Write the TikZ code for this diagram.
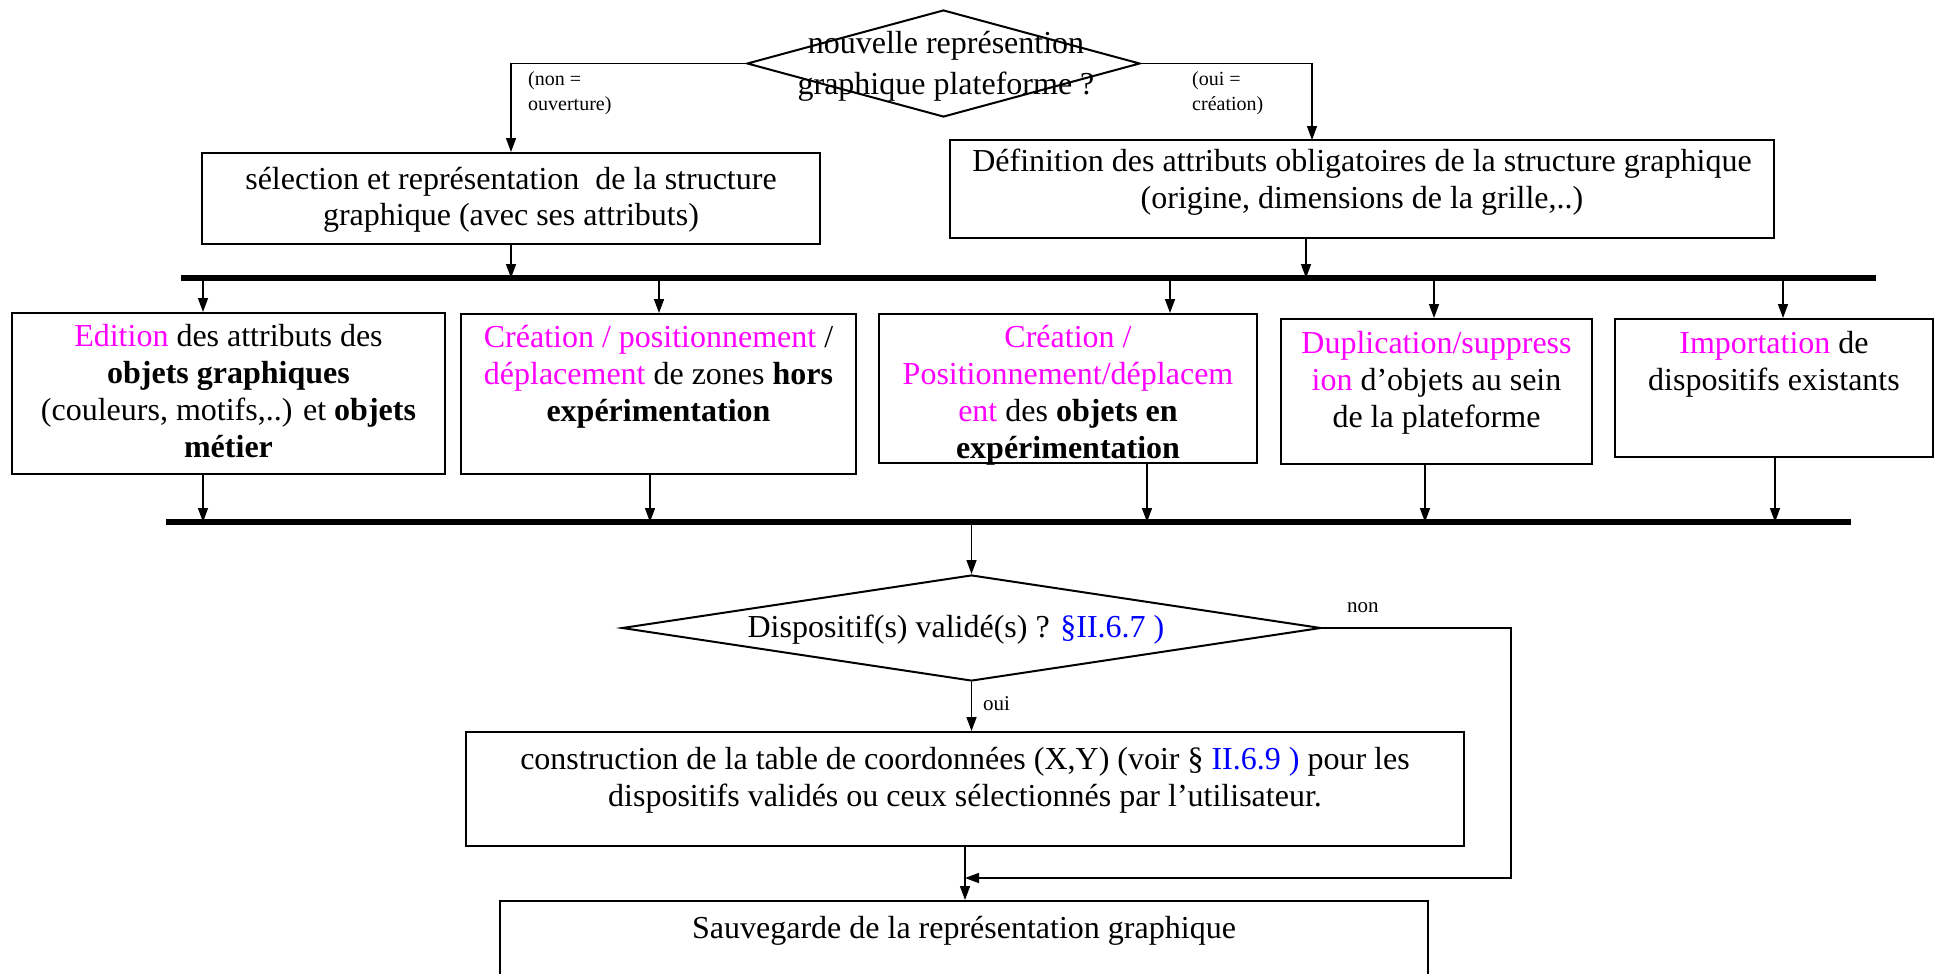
\documentclass[tikz,border=0pt]{standalone}
\usepackage{fontspec}
\setmainfont{Liberation Serif}
\usetikzlibrary{arrows.meta,shapes.geometric}
\definecolor{rose}{RGB}{255,0,255}
\definecolor{lien}{RGB}{0,0,255}
\newcommand\enrose[1]{\textcolor{rose}{#1}}
\newcommand\renvoi[1]{\textcolor{lien}{#1}}

\begin{document}
\begin{tikzpicture}[x=1pt, y=-1pt,
  box/.style={draw, line width=2pt, inner sep=0pt},
  decision/.style={draw, diamond, line width=2pt, inner sep=0pt},
  txt/.style={align=flush center, inner sep=0pt, font={\fontsize{32}{37}\selectfont}},
  note/.style={align=flush left, inner sep=0pt, text width=120pt, font={\fontsize{20}{25}\selectfont}},
  arr/.style={line width=1.5pt, -{Triangle[length=14pt,width=10pt]}},
  bus/.style={line width=6pt}
]
\useasboundingbox (0,0) rectangle (1935,974);
\clip (0,0) rectangle (1935,974);

% top question
\node[decision, minimum width=393, minimum height=107] (d1) at (943.5,63.5) {};
\node[txt, text width=400pt, font={\fontsize{32}{41}\selectfont}, anchor=base] (d1t) at (946,54) {nouvelle représention\\graphique plateforme ?};
\node[note, anchor=base west] (non1) at (528,85) {(non =\\ouverture)};
\node[note, anchor=base west] (oui1) at (1192,85) {(oui =\\création)};

\node[box, minimum width=618, minimum height=91] (sel) at (511,198.5) {};
\node[txt, text width=600pt, font={\fontsize{32}{36}\selectfont}, anchor=base] (selt) at (511,189) {sélection et représentation\ \ de la structure\\graphique (avec ses attributs)};
\node[box, minimum width=824.5, minimum height=98] (def) at (1361.75,189) {};
\node[txt, text width=820pt, font={\fontsize{32}{37}\selectfont}, anchor=base] (deft) at (1362,171) {Définition des attributs obligatoires de la structure graphique\\(origine, dimensions de la grille,..)};

% row of actions
\node[box, minimum width=433, minimum height=161] (b1) at (228.5,393.5) {};
\node[txt, text width=430pt, anchor=base] (b1t) at (228.5,346) {\enrose{Edition} des attributs des\\\textbf{objets graphiques}\\(couleurs, motifs,..) et \textbf{objets}\\\textbf{métier}};
\node[box, minimum width=395, minimum height=160] (b2) at (658.5,394) {};
\node[txt, text width=390pt, anchor=base] (b2t) at (658.5,347) {\enrose{Création / positionnement} /\\\enrose{déplacement} de zones \textbf{hors}\\\textbf{expérimentation}};
\node[box, minimum width=378, minimum height=149] (b3) at (1068,388.5) {};
\node[txt, text width=375pt, anchor=base] (b3t) at (1068,347) {\enrose{Création /}\\\enrose{Positionnement/déplacem}\\\enrose{ent} des \textbf{objets en}\\\textbf{expérimentation}};
\node[box, minimum width=311, minimum height=145] (b4) at (1436.5,391.5) {};
\node[txt, text width=308pt, anchor=base] (b4t) at (1436.5,353) {\enrose{Duplication/suppress}\\\enrose{ion} d’objets au sein\\de la plateforme};
\node[box, minimum width=318, minimum height=138] (b5) at (1774,388) {};
\node[txt, text width=315pt, anchor=base] (b5t) at (1774,353) {\enrose{Importation} de\\dispositifs existants};

% validation
\node[decision, minimum width=699, minimum height=106] (d2) at (971.5,628) {};
\node[txt, text width=650pt, anchor=base] (d2t) at (956,637) {Dispositif(s) validé(s) ? \renvoi{§II.6.7 )}};
\node[note, anchor=base west, font={\fontsize{21}{21}\selectfont}] (non2) at (1347,612) {non};
\node[note, anchor=base west, font={\fontsize{21}{21}\selectfont}] (oui2) at (983,710) {oui};

\node[box, minimum width=998, minimum height=114] (cons) at (965,789) {};
\node[txt, text width=990pt, anchor=base] (const) at (965,769) {construction de la table de coordonnées (X,Y) (voir § \renvoi{II.6.9 )} pour les\\dispositifs validés ou ceux sélectionnés par l’utilisateur.};
\node[box, minimum width=928, minimum height=99] (sauv) at (964,950.5) {};
\node[txt, text width=920pt, anchor=base] (sauvt) at (964,938) {Sauvegarde de la représentation graphique};

\coordinate (busUw) at (181,278);
\coordinate (busUe) at (1876,278);
\coordinate (busLw) at (166,522);
\coordinate (busLe) at (1851,522);
\coordinate (defin) at (1312,140);
\coordinate (defout) at (1306,238);
\coordinate (ret) at (1511,878);

\draw[arr] (d1.west) -| (sel.north);
\draw[arr] (d1.east) -| (defin);
\draw[arr] (sel.south) -- (sel.south |- busUw);
\draw[arr] (defout) -- (defout |- busUw);
\foreach \b/\xi/\xo in {b1/203/203, b2/659/650, b3/1170/1147, b4/1434/1425, b5/1783/1775} {
  \coordinate (in) at (\xi,278);
  \coordinate (out) at (\xo,522);
  \draw[arr] (in) -- (in |- \b.north);
  \draw[arr] (out |- \b.south) -- (out);
}
\draw[arr] (d2.north |- busLw) -- (d2.north);
\draw[arr] (d2.south) -- (d2.south |- cons.north);
\draw[arr] (d2.east) -| (ret) -- (ret -| cons.south);
\draw[arr] (cons.south) -- (cons.south |- sauv.north);

\draw[bus] (busUw) -- (busUe);
\draw[bus] (busLw) -- (busLe);
\end{tikzpicture}
\end{document}
